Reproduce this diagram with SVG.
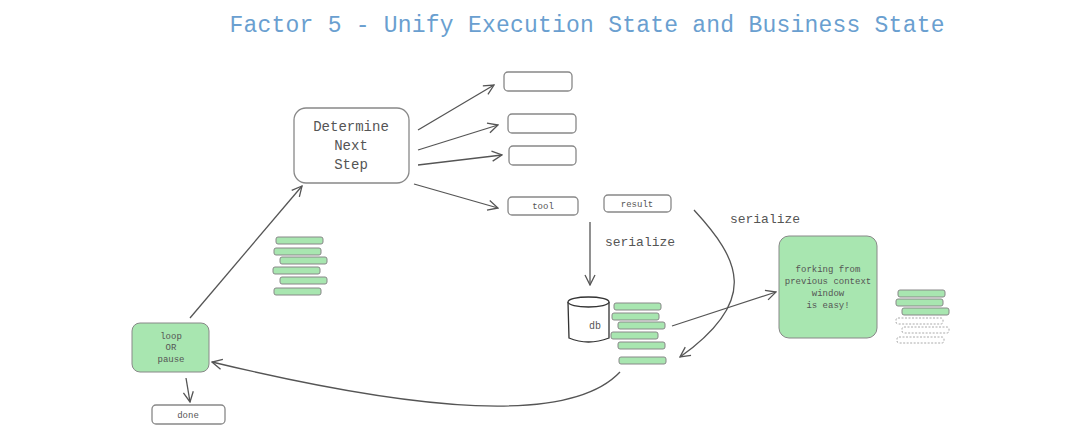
<svg xmlns="http://www.w3.org/2000/svg" width="1080" height="433" viewBox="0 0 1080 433">
<defs>
<marker id="ah" viewBox="0 0 12 12" refX="11" refY="6" markerWidth="12" markerHeight="12" markerUnits="userSpaceOnUse" orient="auto"><path d="M1,1 L11,6 L1,11" fill="none" stroke="#555" stroke-width="1.3"/></marker>
</defs>
<style>
text{font-family:"Liberation Mono",monospace;fill:#555;text-anchor:middle}
.b{fill:#fff;stroke:#888;stroke-width:1.3}
.g{fill:#a8e6b0;stroke:#888;stroke-width:1}
.d{fill:none;stroke:#aaa;stroke-width:1;stroke-dasharray:2 1.5}
.c{fill:none;stroke:#555;stroke-width:1.3;marker-end:url(#ah)}
</style>
<rect width="1080" height="433" fill="#fff"/>
<text x="587" y="32" font-size="23" textLength="715" style="fill:#6a9fd0">Factor 5 - Unify Execution State and Business State</text>
<g id="connectors">
<path class="c" d="M418,130 L494,85"/>
<path class="c" d="M418,150 L498,125"/>
<path class="c" d="M418,165 L502,155"/>
<path class="c" d="M414,184 L498,208"/>
<path class="c" d="M190,318 L302,186"/>
<path class="c" d="M186,378 L190,402"/>
<path class="c" d="M590,222 L590,285"/>
<path class="c" d="M694,210 C740,260 760,300 680,357"/>
<path class="c" d="M672,326 L776,292"/>
<path class="c" d="M620,372 C570,425 420,412 212,362"/>
</g>
<g id="determine"><rect class="b" x="294" y="108" width="115" height="75" rx="12"/>
<text x="351" y="131" font-size="14">Determine</text><text x="351" y="150" font-size="14">Next</text><text x="351" y="169" font-size="14">Step</text></g>
<g id="opt1"><rect class="b" x="504" y="72" width="68" height="19" rx="4"/></g>
<g id="opt2"><rect class="b" x="508" y="114" width="68" height="19" rx="4"/></g>
<g id="opt3"><rect class="b" x="509" y="146" width="67" height="19" rx="4"/></g>
<g id="tool"><rect class="b" x="508" y="197" width="70" height="18" rx="4"/><text x="543" y="209" font-size="9">tool</text></g>
<g id="result"><rect class="b" x="604" y="195" width="67" height="17" rx="4"/><text x="637" y="207" font-size="9">result</text></g>
<g id="bars-left">
<rect class="g" x="276" y="237" width="47" height="7" rx="2"/><rect class="g" x="274" y="248" width="47" height="7" rx="2"/><rect class="g" x="280" y="257" width="47" height="7" rx="2"/><rect class="g" x="273" y="267" width="47" height="7" rx="2"/><rect class="g" x="280" y="277" width="47" height="7" rx="2"/><rect class="g" x="274" y="288" width="47" height="7" rx="2"/>
</g>
<g id="loop"><rect class="g" x="132" y="323" width="77" height="49" rx="8" stroke="#666"/>
<text x="171" y="339" font-size="9">loop</text><text x="171" y="350" font-size="9">OR</text><text x="171" y="362" font-size="9">pause</text></g>
<g id="done"><rect class="b" x="152" y="405" width="73" height="19" rx="4"/><text x="188" y="418" font-size="9">done</text></g>
<text x="640" y="246" font-size="13">serialize</text>
<text x="765" y="223" font-size="13">serialize</text>
<g id="db"><path d="M568,302 L569,338 Q588,346 609,338 L609,302" fill="#fff" stroke="#333" stroke-width="1.3"/><ellipse cx="588.5" cy="302" rx="20.5" ry="5" fill="#fff" stroke="#333" stroke-width="1.3"/><text x="595" y="329" font-size="10">db</text></g>
<g id="bars-db">
<rect class="g" x="614" y="303" width="47" height="7" rx="2"/><rect class="g" x="612" y="313" width="47" height="7" rx="2"/><rect class="g" x="618" y="322" width="47" height="7" rx="2"/><rect class="g" x="611" y="332" width="47" height="7" rx="2"/><rect class="g" x="618" y="342" width="47" height="7" rx="2"/><rect class="g" x="619" y="357" width="47" height="7" rx="2"/>
</g>
<g id="forking"><rect class="g" x="779" y="236" width="98" height="102" rx="10" stroke="#666"/>
<text x="828" y="272" font-size="9">forking from</text><text x="828" y="284" font-size="9">previous context</text><text x="828" y="296" font-size="9">window</text><text x="828" y="308" font-size="9">is easy!</text></g>
<g id="bars-right">
<rect class="g" x="898" y="290" width="47" height="7" rx="2"/><rect class="g" x="896" y="299" width="47" height="7" rx="2"/><rect class="g" x="902" y="308" width="47" height="7" rx="2"/>
<rect class="d" x="896" y="318" width="47" height="6" rx="2"/><rect class="d" x="902" y="327" width="47" height="6" rx="2"/><rect class="d" x="897" y="337" width="47" height="6" rx="2"/>
</g>
</svg>
